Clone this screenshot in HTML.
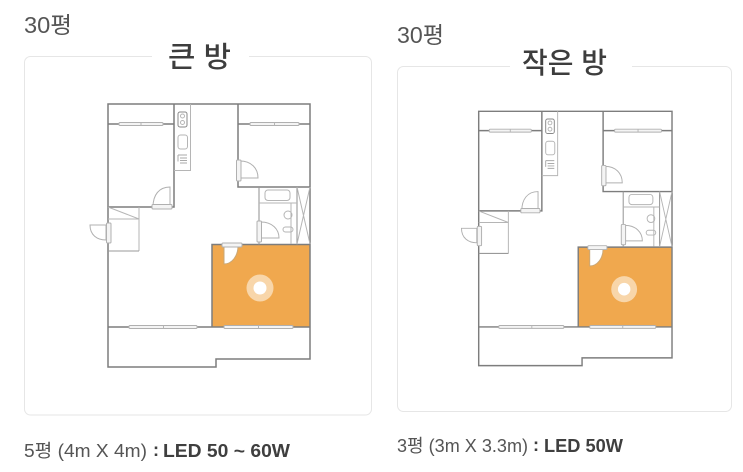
<!DOCTYPE html>
<html lang="ko"><head><meta charset="utf-8"><style>
html,body{margin:0;padding:0;background:#fff}
svg{display:block}
text{font-family:"Liberation Sans","Noto Sans CJK KR",sans-serif;fill:#555}
.t{font-family:"Noto Sans CJK KR","Liberation Sans",sans-serif;font-weight:500;fill:#3d3d3d}
.b{font-weight:700;fill:#3f3f3f}
.w{fill:#f4f4f4;stroke:#b0b0b0;stroke-width:1}
.d{fill:#fff;stroke:#b0b0b0;stroke-width:1}
.g{fill:none;stroke:#7d7d7d;stroke-width:1.5}
.l{fill:none;stroke:#b5b5b5;stroke-width:1}
.plan{filter:blur(.35px)}
</style></head><body>
<svg width="743" height="472" viewBox="0 0 743 472" xmlns="http://www.w3.org/2000/svg">
<defs>
<g id="plan">
  <rect x="212" y="244.500" width="98" height="82.500" fill="#f0a84e"/>
  <circle cx="260" cy="288" r="13.500" fill="#f8d6aa"/>
  <circle cx="260" cy="288" r="6.500" fill="#fff"/>
  <path class="g" d="M108 104H310V359H216V367H108Z"/>
  <path class="g" d="M174 104V207H108M238 104V187H310M108 124H174M238 124H310M108 327H310M212 327V244.500H310"/>
  <path class="l" d="M190.500 104V170.500H174M139 207V251M108 219H139M108 207L139 219"/>
  <path class="g" d="M108 251H139M259 187V244.500M297 187V244.500" style="stroke-width:1.100;stroke:#999"/>
  <path class="l" d="M259 203H297M291 203V244M297 187L310 244M310 187L297 244"/>
  <rect class="l" x="265" y="190" width="25" height="10.500" rx="3"/>
  <circle class="l" cx="288" cy="215" r="4"/>
  <rect class="l" x="283" y="227" width="10" height="5" rx="2.500"/>
  <rect class="l" x="178" y="112" width="9" height="15" rx="2" style="stroke:#888"/>
  <circle class="l" cx="182.500" cy="116" r="2"/><circle class="l" cx="182.500" cy="122.500" r="2"/>
  <rect class="l" x="178" y="135" width="9.500" height="14" rx="2.500"/>
  <path class="l" d="M178 155H187M180 158H187M180 160.500H187M180 163H187M178 155V161.500" style="stroke:#aaa"/>
  <rect class="w" x="119" y="122.500" width="44" height="3" rx="1"/><path class="l" d="M141 122.500V125.500"/>
  <rect class="w" x="250" y="122.500" width="49" height="3" rx="1"/><path class="l" d="M274.500 122.500V125.500"/>
  <rect class="w" x="129" y="325.500" width="68" height="3" rx="1"/><path class="l" d="M163.500 325.500V328.500"/>
  <rect class="w" x="224" y="325.500" width="69" height="3" rx="1"/><path class="l" d="M258.500 325.500V328.500"/>
  <path class="d" d="M170 204V187C159 187 153 195 153 207H170"/>
  <rect class="w" x="152" y="204.500" width="20" height="4.500" rx="1"/>
  <path class="d" d="M240 161V178H258C258 168 251 161 240 161Z"/>
  <rect class="w" x="236.500" y="160" width="4.500" height="21" rx="1"/>
  <path class="d" d="M261 222V238H279C279 229 272 222 261 222Z"/>
  <rect class="w" x="257" y="221" width="4.500" height="21" rx="1"/>
  <path class="d" d="M106 225H90C90 235 97 240 106 240Z"/>
  <rect class="w" x="106.500" y="223" width="4.500" height="20" rx="1"/>
  <path d="M224 246V264C232 264 238 256 238 246Z" fill="#fff" stroke="#c9a777"/>
  <rect class="w" x="222" y="243" width="20" height="4" rx="1"/>
</g>
</defs>

<rect x="24.500" y="56.500" width="347" height="358.500" rx="6" fill="#fff" stroke="#e6e6e6"/>
<rect x="397.500" y="66.500" width="334" height="345" rx="6" fill="#fff" stroke="#e6e6e6"/>
<rect x="152" y="50" width="97" height="12" fill="#fff"/>
<rect x="510" y="60" width="122" height="12" fill="#fff"/>

<text x="24" y="33" font-size="23" textLength="48" lengthAdjust="spacingAndGlyphs">30평</text>
<text x="397" y="43" font-size="23" textLength="47" lengthAdjust="spacingAndGlyphs">30평</text>
<text class="t" x="168" y="67" font-size="29" textLength="63" lengthAdjust="spacingAndGlyphs">큰 방</text>
<text class="t" x="522" y="73" font-size="29" textLength="85" lengthAdjust="spacingAndGlyphs">작은 방</text>

<g class="plan"><use href="#plan"/></g>
<g class="plan" transform="translate(478.700 111) scale(.957 .967) translate(-108 -103.700)"><use href="#plan"/></g>

<text x="24" y="457" font-size="18" textLength="123" lengthAdjust="spacingAndGlyphs">5평 (4m X 4m)</text>
<text x="153" y="456" font-size="18" class="b">:</text>
<text class="b" x="163" y="457" font-size="18" textLength="127" lengthAdjust="spacingAndGlyphs">LED 50 ~ 60W</text>
<text x="397" y="452" font-size="18" textLength="131" lengthAdjust="spacingAndGlyphs">3평 (3m X 3.3m)</text>
<text x="533" y="451" font-size="18" class="b">:</text>
<text class="b" x="544" y="452" font-size="18" textLength="79" lengthAdjust="spacingAndGlyphs">LED 50W</text>
</svg>
</body></html>
